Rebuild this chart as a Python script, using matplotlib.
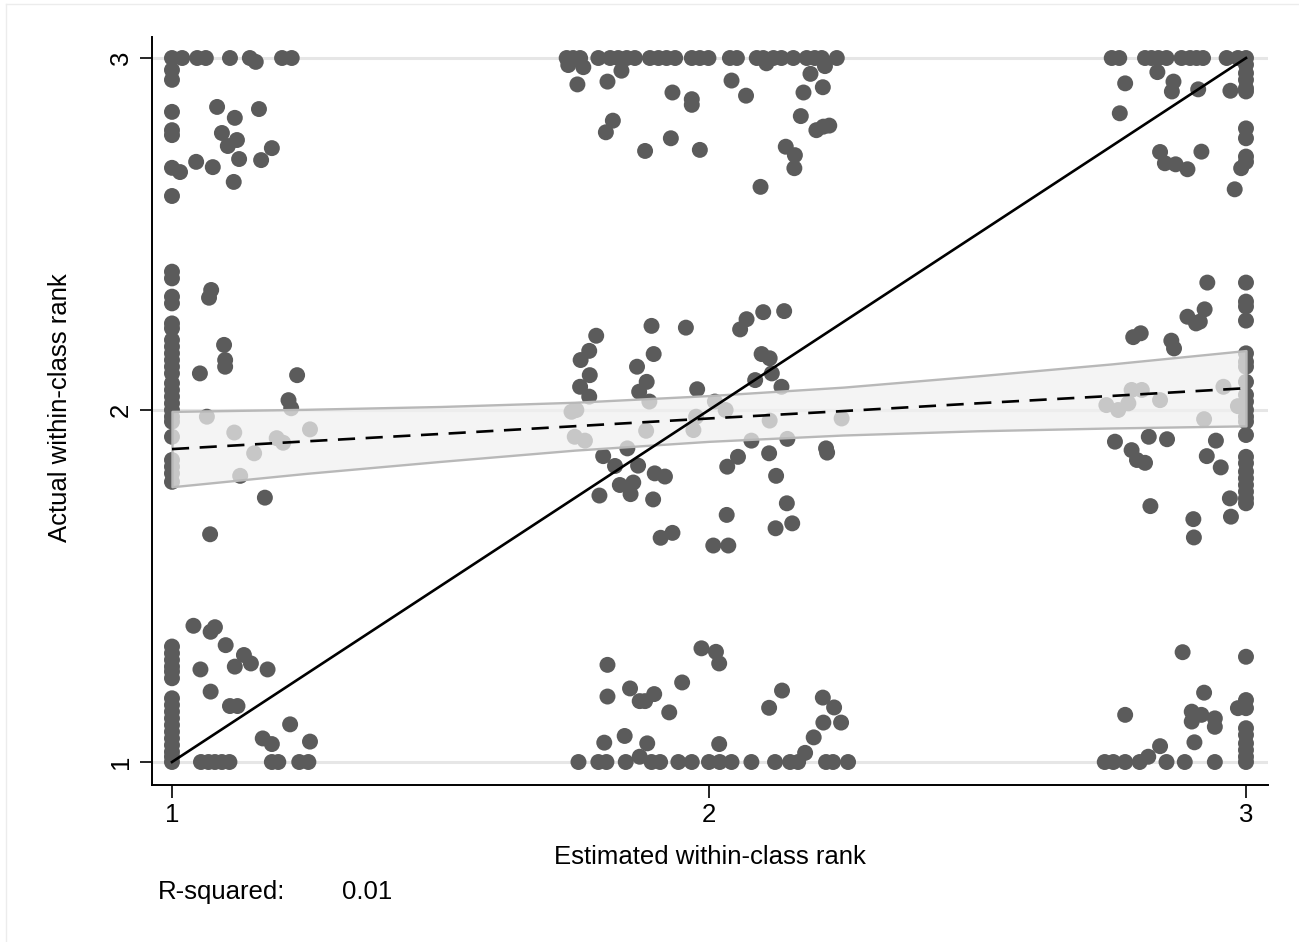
import matplotlib
matplotlib.use("Agg")
import matplotlib.pyplot as plt
from matplotlib.lines import Line2D

plt.rcParams['font.family'] = ['Liberation Sans', 'DejaVu Sans']

# ---------------- data (estimated rank, actual rank) ----------------
# actual rank ~ 3
top_est = ([1.000, 1.019, 1.047, 1.063, 1.108, 1.145, 1.156, 1.205, 1.223]
           + [1.000] * 7
           + [1.015, 1.084, 1.117, 1.162, 1.093, 1.121, 1.104, 1.186, 1.045, 1.076, 1.125, 1.166, 1.115]
           + [1.735, 1.747, 1.760, 1.794, 1.816, 1.831, 1.847, 1.862, 1.890, 1.906, 1.921, 1.937, 1.968,
              1.983, 1.999, 2.039, 2.052, 2.089, 2.101, 2.120, 2.135, 2.157, 2.182, 2.197, 2.210, 2.238]
           + [1.738, 1.766, 2.107, 2.216, 1.837]
           + [1.755, 1.811, 1.932, 1.968, 1.968, 1.821, 1.808, 1.929, 1.881, 1.983, 2.042, 2.069, 2.096,
              2.143, 2.160, 2.159, 2.171, 2.176, 2.189, 2.212, 2.200, 2.213, 2.224]
           + [2.750, 2.764, 2.812, 2.824, 2.837, 2.852, 2.880, 2.896, 2.908, 2.920, 2.964, 2.985, 3.000]
           + [3.000] * 9 + [2.991, 2.979]
           + [2.835, 2.775, 2.865, 2.862, 2.911, 2.971, 2.765, 2.840, 2.849, 2.869, 2.891, 2.917])
top_act = ([3.000, 3.000, 3.000, 3.000, 3.000, 3.000, 2.989, 3.000, 3.000]
           + [2.966, 2.938, 2.847, 2.795, 2.781, 2.688, 2.608]
           + [2.676, 2.861, 2.830, 2.855, 2.787, 2.767, 2.750, 2.744, 2.705, 2.690, 2.713, 2.710, 2.648]
           + [3.000] * 26
           + [2.980, 2.974, 2.985, 2.977, 2.964]
           + [2.925, 2.933, 2.902, 2.883, 2.867, 2.822, 2.789, 2.772, 2.736, 2.739, 2.936, 2.893, 2.634,
              2.748, 2.724, 2.687, 2.835, 2.902, 2.955, 2.917, 2.795, 2.805, 2.808]
           + [3.000] * 13
           + [2.981, 2.957, 2.938, 2.914, 2.905, 2.800, 2.772, 2.720, 2.705, 2.687, 2.627]
           + [2.960, 2.928, 2.933, 2.905, 2.911, 2.907, 2.843, 2.733, 2.701, 2.698, 2.684, 2.734])

# actual rank ~ 2
mid_est = ([1.000] * 24
           + [1.073, 1.069, 1.097, 1.099, 1.099, 1.052, 1.233, 1.217, 1.222, 1.065, 1.116, 1.195, 1.207,
              1.257, 1.153, 1.127, 1.173, 1.071]
           + [1.790, 1.777, 1.761, 1.778, 1.760, 1.777, 1.744, 1.753, 1.750, 1.769, 1.803, 1.825, 1.848,
              1.868, 1.834, 1.859, 1.854, 1.796, 1.899, 1.918, 1.896, 1.893, 1.957, 1.897, 1.866, 1.884,
              1.870, 1.889, 1.883, 1.978, 1.971, 1.976, 2.011, 2.031, 2.070, 2.058, 2.101, 2.140, 2.098,
              2.113, 2.117, 2.086, 2.135, 2.113, 2.079, 2.146, 2.112, 2.054, 2.034, 2.125, 2.145, 2.124,
              2.155, 2.033, 1.910, 1.932, 2.008, 2.036, 2.218, 2.220, 2.247]
           + [3.000] * 22
           + [2.928, 2.923, 2.891, 2.907, 2.914, 2.790, 2.804, 2.861, 2.866, 2.740, 2.762, 2.781, 2.787,
              2.806, 2.840, 2.958, 2.922, 2.985, 2.756, 2.787, 2.797, 2.812, 2.819, 2.853, 2.822, 2.944,
              2.927, 2.953, 2.970, 2.972, 2.902, 2.903])
mid_act = ([2.393, 2.374, 2.322, 2.303, 2.246, 2.232, 2.199, 2.180, 2.161, 2.142, 2.123, 2.104, 2.076,
            2.057, 2.038, 2.019, 2.000, 1.981, 1.967, 1.924, 1.858, 1.839, 1.820, 1.796]
           + [2.341, 2.319, 2.185, 2.142, 2.123, 2.104, 2.099, 2.028, 2.005, 1.981, 1.936, 1.920, 1.907,
              1.945, 1.877, 1.813, 1.751, 1.647]
           + [2.211, 2.168, 2.142, 2.099, 2.066, 2.038, 1.995, 2.000, 1.924, 1.913, 1.869, 1.841, 1.891,
              1.842, 1.787, 1.794, 1.761, 1.757, 1.820, 1.811, 1.746, 2.239, 2.234, 2.159, 2.123, 2.080,
              2.052, 2.024, 1.941, 2.059, 1.943, 1.981, 2.024, 2.000, 2.258, 2.229, 2.278, 2.281, 2.159,
              2.147, 2.104, 2.085, 2.066, 1.970, 1.913, 1.918, 1.877, 1.867, 1.839, 1.813, 1.735, 1.664,
              1.678, 1.702, 1.637, 1.651, 1.615, 1.615, 1.891, 1.879, 1.976]
           + [2.362, 2.308, 2.294, 2.254, 2.161, 2.137, 2.123, 2.080, 2.043, 2.024, 2.000, 1.981, 1.967,
              1.929, 1.867, 1.849, 1.825, 1.806, 1.787, 1.768, 1.749, 1.735]
           + [2.362, 2.286, 2.265, 2.246, 2.251, 2.207, 2.218, 2.197, 2.175, 2.014, 2.000, 2.019, 2.057,
              2.057, 2.028, 2.066, 1.974, 2.011, 1.910, 1.886, 1.858, 1.850, 1.924, 1.917, 1.727, 1.913,
              1.869, 1.837, 1.749, 1.697, 1.690, 1.638])

# actual rank ~ 1
low_est = ([1.000] * 17
           + [1.054, 1.068, 1.080, 1.093, 1.107, 1.186, 1.198, 1.237, 1.254]
           + [1.040, 1.072, 1.080, 1.100, 1.134, 1.147, 1.117, 1.053, 1.178, 1.072, 1.108, 1.122, 1.220,
              1.169, 1.186, 1.257]
           + [1.757, 1.794, 1.809, 1.845, 1.871, 1.893, 1.909, 1.943, 1.968, 2.000, 2.020, 2.042, 2.079,
              2.123, 2.151, 2.166, 2.179, 2.218, 2.231, 2.259]
           + [1.811, 1.811, 1.805, 1.843, 1.853, 1.871, 1.881, 1.898, 1.885, 1.926, 1.950, 1.986, 2.013,
              2.019, 2.019, 2.112, 2.136, 2.195, 2.212, 2.233, 2.213, 2.246]
           + [2.737, 2.753, 2.775, 2.802, 2.818, 2.852, 2.886, 2.942, 3.000]
           + [3.000] * 8
           + [2.882, 2.775, 2.840, 2.922, 2.899, 2.899, 2.917, 2.942, 2.942, 2.904, 2.985])
low_act = ([1.328, 1.309, 1.290, 1.271, 1.257, 1.238, 1.181, 1.162, 1.143, 1.124, 1.105, 1.086, 1.067,
            1.048, 1.029, 1.015, 1.000]
           + [1.000] * 9
           + [1.387, 1.370, 1.383, 1.332, 1.304, 1.280, 1.271, 1.263, 1.263, 1.200, 1.159, 1.159, 1.107,
              1.067, 1.051, 1.058]
           + [1.000, 1.000, 1.000, 1.000, 1.015, 1.000, 1.000, 1.000, 1.000, 1.000, 1.000, 1.000, 1.000,
              1.000, 1.000, 1.000, 1.026, 1.000, 1.000, 1.000]
           + [1.276, 1.186, 1.055, 1.074, 1.209, 1.173, 1.173, 1.193, 1.053, 1.141, 1.226, 1.323, 1.313,
              1.280, 1.051, 1.154, 1.203, 1.070, 1.183, 1.155, 1.112, 1.112]
           + [1.000, 1.000, 1.000, 1.000, 1.015, 1.000, 1.000, 1.000, 1.000]
           + [1.299, 1.176, 1.153, 1.096, 1.077, 1.053, 1.034, 1.015]
           + [1.312, 1.134, 1.045, 1.197, 1.143, 1.115, 1.134, 1.124, 1.100, 1.056, 1.153])

# linear fit with 95% CI
ci_x = [1.00, 1.25, 1.50, 1.75, 2.00, 2.25, 2.50, 2.75, 3.00]
fit_y = [1.889, 1.911, 1.932, 1.954, 1.976, 1.997, 2.019, 2.040, 2.062]
ci_hi = [1.996, 2.002, 2.010, 2.022, 2.041, 2.065, 2.097, 2.131, 2.169]
ci_lo = [1.782, 1.820, 1.854, 1.886, 1.911, 1.929, 1.941, 1.949, 1.955]

# 45-degree reference line
diag = [1, 3]

ticks = [1, 2, 3]
r2_label = "R-squared:"
r2_value = "0.01"
xlabel = "Estimated within-class rank"
ylabel = "Actual within-class rank"

# ---------------- figure ----------------
W, H = 1299, 942
fig = plt.figure(figsize=(W / 100, H / 100), dpi=100)
fig.patch.set_facecolor('white')
ax = fig.add_axes([152 / W, 1 - 785 / H, (1268 - 152) / W, (785 - 37) / H])
ax.set_xlim(0.9628, 3.041)
ax.set_ylim(0.9347, 3.0597)

for sp in ['top', 'right']:
    ax.spines[sp].set_visible(False)
for sp in ['left', 'bottom']:
    ax.spines[sp].set_linewidth(1.4)
    ax.spines[sp].set_color('black')

ax.set_xticks(ticks)
ax.set_yticks(ticks)
ax.set_xticklabels([str(t) for t in ticks])
ax.set_yticklabels([str(t) for t in ticks], rotation=90, va='center')
ax.tick_params(axis='both', direction='out', length=9, width=1.2, labelsize=18.5, colors='black')
ax.tick_params(axis='x', pad=4)
ax.tick_params(axis='y', pad=5)
ax.yaxis.grid(True, color='#e6e6e6', lw=2.2, zorder=0)
ax.set_axisbelow(True)

pt_color = '#5b5b5b'
for xs, ys in [(top_est, top_act), (mid_est, mid_act), (low_est, low_act)]:
    ax.scatter(xs, ys, s=132, c=pt_color, edgecolors='none', zorder=2, clip_on=False)

ax.fill_between(ci_x, ci_lo, ci_hi, facecolor=(0.94, 0.94, 0.94, 0.73),
                edgecolor='#b8b8b8', linewidth=1.7, zorder=3)
ax.plot(ci_x, fit_y, color='black', lw=1.9, dashes=(6.5, 4), zorder=4)
ax.plot(diag, diag, color='black', lw=1.9, zorder=5)

fig.text(709.5 / W, 1 - 857 / H, xlabel, ha='center', va='center', fontsize=18.5)
fig.text(60 / W, 1 - 408 / H, ylabel, ha='center', va='center', rotation=90, fontsize=18.5)
fig.text(158 / W, 1 - 892 / H, r2_label, ha='left', va='center', fontsize=18.5)
fig.text(342 / W, 1 - 892 / H, r2_value, ha='left', va='center', fontsize=18.5)

# faint graph-region border (top and left edges)
fig.add_artist(Line2D([6 / W, 1], [1 - 4 / H, 1 - 4 / H], color='#ececec', lw=1, transform=fig.transFigure))
fig.add_artist(Line2D([6 / W, 6 / W], [0, 1 - 4 / H], color='#ececec', lw=1, transform=fig.transFigure))

fig.savefig('out.png', dpi=100)
